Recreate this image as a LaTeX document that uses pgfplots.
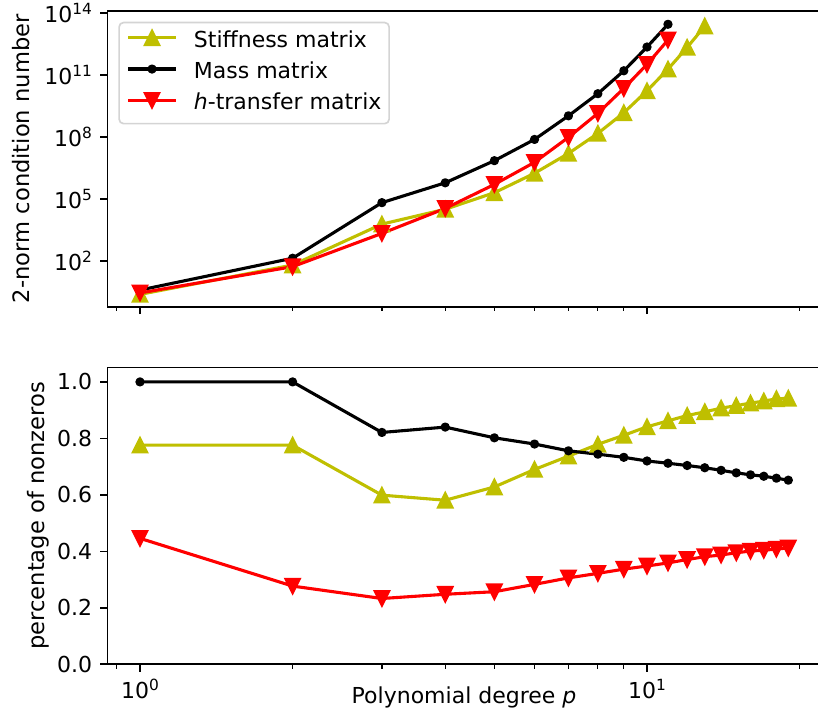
\documentclass[border=0pt]{standalone}
\usepackage{fontspec}
\setmainfont{DejaVu Sans}
\usepackage{pgfplots}
\pgfplotsset{compat=1.18}
\definecolor{myyel}{RGB}{191,191,0}
\definecolor{myred}{RGB}{255,0,0}
\newcommand\sups[1]{\raisebox{0.36em}{\fontsize{15.4pt}{16pt}\selectfont #1}}
\newcommand\labfont{\fontsize{22.6pt}{27pt}\selectfont}
\pgfdeclareplotmark{mtriup}{%
  \pgfpathmoveto{\pgfqpoint{0pt}{\pgfplotmarksize}}%
  \pgfpathlineto{\pgfqpoint{-\pgfplotmarksize}{-\pgfplotmarksize}}%
  \pgfpathlineto{\pgfqpoint{\pgfplotmarksize}{-\pgfplotmarksize}}%
  \pgfpathclose\pgfusepathqfillstroke}
\pgfdeclareplotmark{mtridown}{%
  \pgfpathmoveto{\pgfqpoint{0pt}{-\pgfplotmarksize}}%
  \pgfpathlineto{\pgfqpoint{-\pgfplotmarksize}{\pgfplotmarksize}}%
  \pgfpathlineto{\pgfqpoint{\pgfplotmarksize}{\pgfplotmarksize}}%
  \pgfpathclose\pgfusepathqfillstroke}
\pgfplotsset{
  myaxis/.style={
    scale only axis, width=713.1pt,
    xmin=0.8628, xmax=22,
    xtick={1,10}, minor xtick={0.9,2,3,4,5,6,7,8,9,20},
    tick align=outside, tick pos=left,
    major tick length=7.3pt, minor tick length=4.2pt,
    every tick/.style={black, line width=1.67pt},
    every minor tick/.append style={line width=1.25pt},
    axis line style={line width=1.67pt},
    yticklabel style={anchor=east, inner sep=0pt, xshift=-8pt},
    xticklabel style={anchor=base, inner sep=0pt, yshift=-26.7pt},
    every axis plot/.append style={line width=3.1pt, line join=round},
    legend image code/.code={\draw[mark repeat=2,mark phase=2,##1] plot coordinates {(0pt,9.3pt) (23.65pt,9.3pt) (47.3pt,9.3pt)};},
  },
  stiff/.style={color=myyel, mark=mtriup, mark size=7.3pt, mark options={line width=2pt, line join=miter}},
  mass/.style={color=black, mark=*, mark size=3.6pt, mark options={line width=2pt}},
  htr/.style={color=myred, mark=mtridown, mark size=7.3pt, mark options={line width=2pt, line join=miter}},
}
\begin{document}
\fontsize{22pt}{26pt}\selectfont
\begin{tikzpicture}
\begin{axis}[xmode=log, ymode=log, myaxis, name=top, at={(107.5pt,406.3pt)}, anchor=south west,
  height=296pt, ymin=0.637, ymax=1.34e14,
  xticklabels={}, ytick={1e2,1e5,1e8,1e11,1e14}, yminorticks=false,
  yticklabels={10\sups{2},10\sups{5},10\sups{8},10\sups{11},10\sups{14}},
  ylabel={\labfont 2-norm condition number},
  every axis y label/.style={at={(axis description cs:-0.1087,0.5)}, rotate=90, anchor=base, inner sep=0pt},
  legend style={at={(axis description cs:0.01515,0.9628)}, anchor=north west,
    draw=black!17, line width=1.67pt, rounded corners=4.4pt, fill=white,
    inner xsep=7.7pt, inner ysep=8pt, row sep=8.7pt,
    nodes={inner sep=0pt, anchor=base west, text height=16.5pt, text depth=6pt},
    column sep=16.7pt},
  legend cell align=left,
]
\addplot[stiff] coordinates {(1,2.51) (2,66.1) (3,6310) (4,33100) (5,2.09e5) (6,1.82e6) (7,1.66e7) (8,1.55e8) (9,1.55e9) (10,1.78e10) (11,2.0e11) (12,2.24e12) (13,2.4e13)};
\addlegendentry{Stiffness matrix}
\addplot[mass] coordinates {(1,4.07) (2,141) (3,6.9e4) (4,6.3e5) (5,7.4e6) (6,7.9e7) (7,1.1e9) (8,1.29e10) (9,1.66e11) (10,2.34e12) (11,2.95e13)};
\addlegendentry{Mass matrix}
\addplot[htr] coordinates {(1,2.95) (2,55) (3,2240) (4,36300) (5,5.25e5) (6,6.17e6) (7,1.0e8) (8,1.45e9) (9,2.34e10) (10,3.39e11) (11,5.13e12)};
\addlegendentry{\textit{h}-transfer matrix}
\end{axis}
\begin{axis}[xmode=log, myaxis, name=bot, at={(107.5pt,48.7pt)}, anchor=south west,
  height=296.8pt, ymin=0, ymax=1.051,
  xticklabels={10\sups{0},10\sups{1}},
  ytick={0,0.2,0.4,0.6,0.8,1.0}, yticklabels={0.0,0.2,0.4,0.6,0.8,1.0},
  ylabel={\labfont percentage of nonzeros},
  xlabel={Polynomial degree \textit{p}},
  every axis y label/.style={at={(axis description cs:-0.0881,0.5)}, rotate=90, anchor=base, inner sep=0pt},
  every axis x label/.style={at={(axis description cs:0.5,-0.1314)}, anchor=base, inner sep=0pt},
]
\addplot[stiff] coordinates {(1,0.776) (2,0.776) (3,0.599) (4,0.581) (5,0.628) (6,0.690) (7,0.737) (8,0.779) (9,0.811) (10,0.841) (11,0.862) (12,0.881) (13,0.894) (14,0.907) (15,0.916) (16,0.925) (17,0.932) (18,0.940) (19,0.942)};
\addplot[mass] coordinates {(1,1.0) (2,1.0) (3,0.821) (4,0.840) (5,0.802) (6,0.780) (7,0.756) (8,0.744) (9,0.733) (10,0.720) (11,0.712) (12,0.704) (13,0.696) (14,0.687) (15,0.678) (16,0.671) (17,0.666) (18,0.659) (19,0.652)};
\addplot[htr] coordinates {(1,0.446) (2,0.277) (3,0.233) (4,0.248) (5,0.257) (6,0.283) (7,0.306) (8,0.322) (9,0.337) (10,0.348) (11,0.359) (12,0.371) (13,0.381) (14,0.387) (15,0.395) (16,0.401) (17,0.404) (18,0.408) (19,0.412)};
\end{axis}
\pgfresetboundingbox
\path[use as bounding box] (0,0) rectangle (818pt,713pt);
\end{tikzpicture}
\end{document}
